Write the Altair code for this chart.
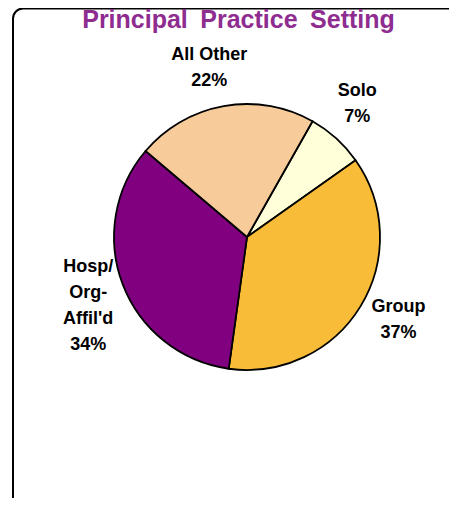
import math
import altair as alt
import pandas as pd

title_text = "Principal Practice Setting"
categories = ["Solo", "Group", "Hosp/\nOrg-\nAffil'd", "All Other"]
values = [7, 37, 34, 22]
colors = ["#FFFFD9", "#F9BC38", "#800080", "#F8CC9A"]

df = pd.DataFrame({
    "cat": categories,
    "value": values,
    "order": list(range(len(categories))),
})

# one row per label line, offset around the slice's label anchor
LINE_H = 26
rows = []
for i, (c, v) in enumerate(zip(categories, values)):
    lines = c.split("\n") + [f"{v}%"]
    n = len(lines)
    for j, ln in enumerate(lines):
        rows.append({"cat": c, "value": v, "order": i, "line": ln,
                     "dy": (j - (n - 1) / 2) * LINE_H})
lab_df = pd.DataFrame(rows)

start = 0.515
theta_scale = alt.Scale(range=[start, start + 2 * math.pi])
cx, cy = 239, 229

pie = alt.Chart(df).mark_arc(stroke="black", strokeWidth=1.8).encode(
    theta=alt.Theta("value:Q", stack=True, scale=theta_scale),
    order=alt.Order("order:Q"),
    color=alt.Color("cat:N", scale=alt.Scale(domain=categories, range=colors), legend=None),
    x=alt.value(cx), y=alt.value(cy),
    radius=alt.value(133),
)

# label anchors: near the slice mid-angle, computed from the same values
tot = sum(values)
LAB_SHIFT = math.radians(-2.5)
anchor = {}
cum = 0
for c, v in zip(categories, values):
    anchor[c] = start + LAB_SHIFT + 2 * math.pi * (cum + v / 2) / tot
    cum += v
R_LAB = 173
lab_df["px"] = [cx + R_LAB * math.sin(anchor[c]) for c in lab_df["cat"]]
lab_df["py"] = [cy - R_LAB * math.cos(anchor[c]) + d for c, d in zip(lab_df["cat"], lab_df["dy"])]

labels = alt.Chart(lab_df).mark_text(
    font="Liberation Sans", fontWeight="bold", fontSize=18,
    align="center", baseline="middle", color="black",
).encode(
    text="line:N",
    x=alt.X("px:Q", scale=None),
    y=alt.Y("py:Q", scale=None),
)

title = alt.Chart(pd.DataFrame({"t": [title_text.replace(" ", "\u2002")]})).mark_text(
    font="Liberation Sans", fontWeight="bold", fontSize=25, color="#8E2C90",
    align="center", baseline="alphabetic",
).encode(text="t:N", x=alt.value(230.5), y=alt.value(20))

frame = alt.Chart(pd.DataFrame({"a": [0]})).mark_rect(
    fill=None, stroke="black", strokeWidth=2, cornerRadius=10,
).encode(x=alt.value(5), x2=alt.value(470), y=alt.value(0.5), y2=alt.value(520))

chart = alt.layer(frame, pie, labels, title).properties(
    width=441, height=490, padding=0, autosize=alt.AutoSizeParams(type="none"),
).configure_view(stroke=None)

chart.save("out.html", embed_options={"renderer": "svg", "actions": False})
